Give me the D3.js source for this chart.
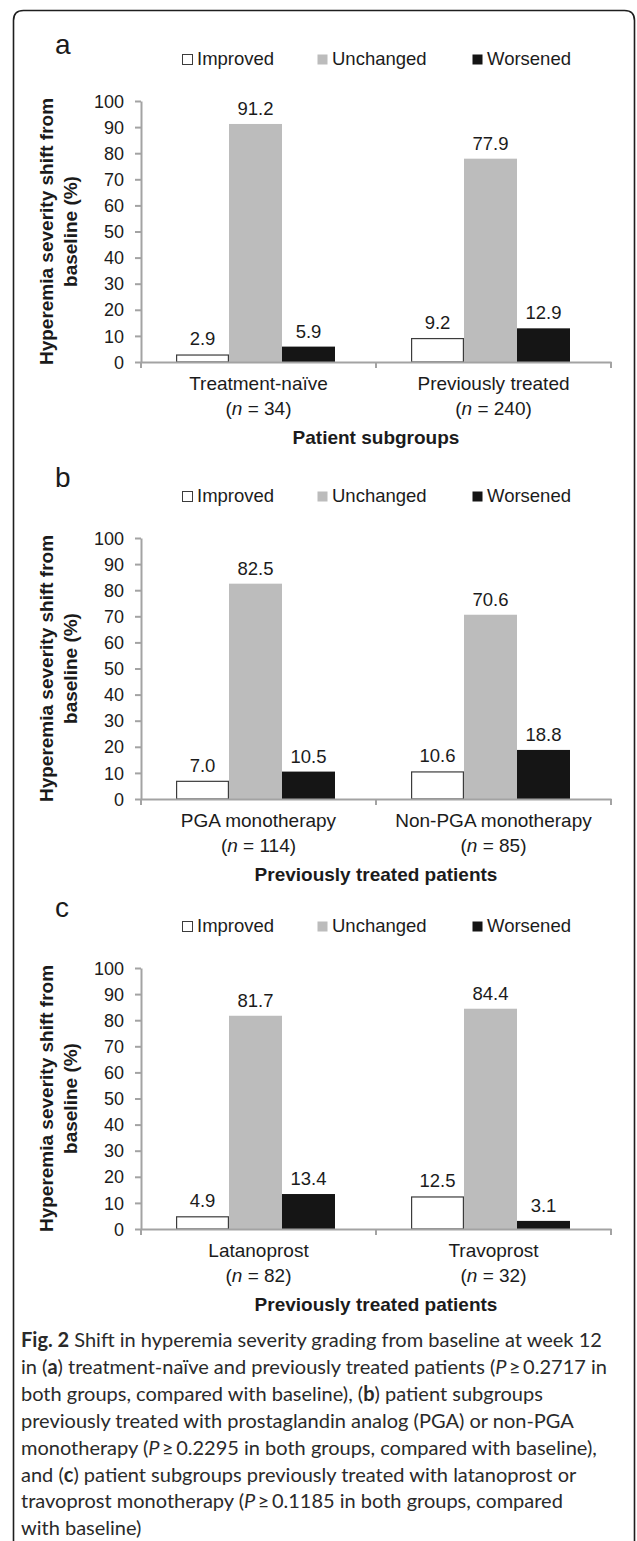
<!DOCTYPE html>
<html>
<head>
<meta charset="utf-8">
<script src="https://cdn.jsdelivr.net/npm/d3@7"></script>
<style>
  html, body { margin: 0; padding: 0; background: #fff; }
  svg { display: block; }
</style>
</head>
<body>
<script>
// ---------- data ----------
const seriesNames = ["Improved", "Unchanged", "Worsened"];
const panelLetters = ["a", "b", "c"];

const groupsA = ["Treatment-naïve", "Previously treated"];
const nA = ["34", "240"];
const improvedA = [2.9, 9.2];
const unchangedA = [91.2, 77.9];
const worsenedA = [5.9, 12.9];

const groupsB = ["PGA monotherapy", "Non-PGA monotherapy"];
const nB = ["114", "85"];
const improvedB = [7.0, 10.6];
const unchangedB = [82.5, 70.6];
const worsenedB = [10.5, 18.8];

const groupsC = ["Latanoprost", "Travoprost"];
const nC = ["82", "32"];
const improvedC = [4.9, 12.5];
const unchangedC = [81.7, 84.4];
const worsenedC = [13.4, 3.1];

const xTitles = ["Patient subgroups", "Previously treated patients", "Previously treated patients"];
const yTicks = [0, 10, 20, 30, 40, 50, 60, 70, 80, 90, 100];
const yTitleLines = ["Hyperemia severity shift from", "baseline (%)"];

const captionLines = [
  [["Fig. 2", "b"], [" Shift in hyperemia severity grading from baseline at week 12", ""]],
  [["in (", ""], ["a", "b"], [") treatment-naïve and previously treated patients (", ""], ["P", "i"], ["\u2009≥\u20090.2717 in", ""]],
  [["both groups, compared with baseline), (", ""], ["b", "b"], [") patient subgroups", ""]],
  [["previously treated with prostaglandin analog (PGA) or non-PGA", ""]],
  [["monotherapy (", ""], ["P", "i"], ["\u2009≥\u20090.2295 in both groups, compared with baseline),", ""]],
  [["and (", ""], ["c", "b"], [") patient subgroups previously treated with latanoprost or", ""]],
  [["travoprost monotherapy (", ""], ["P", "i"], ["\u2009≥\u20090.1185 in both groups, compared", ""]],
  [["with baseline)", ""]]
];

const panels = [
  { letter: panelLetters[0], groups: groupsA, n: nA, vals: [improvedA, unchangedA, worsenedA], xTitle: xTitles[0] },
  { letter: panelLetters[1], groups: groupsB, n: nB, vals: [improvedB, unchangedB, worsenedB], xTitle: xTitles[1] },
  { letter: panelLetters[2], groups: groupsC, n: nC, vals: [improvedC, unchangedC, worsenedC], xTitle: xTitles[2] }
];

// ---------- layout ----------
const W = 637, H = 1541;
const panelTops = [101, 538, 968];
const plotH = 261;
const axisLeft = 141, axisRight = 611;
const letterOffsets = [47, 51, 51];
const fills = { Improved: "#ffffff", Unchanged: "#bcbcbc", Worsened: "#151515" };
const strokes = { Improved: "#3c3c3c", Unchanged: "none", Worsened: "none" };
const chartFont = "'Liberation Sans', Arial, sans-serif";
const textCol = "#1b1b1b";
const axisCol = "#a3a3a3";

const svg = d3.select("body").append("svg").attr("width", W).attr("height", H);
svg.append("rect").attr("width", W).attr("height", H).attr("fill", "#fff");

// frame (rounded top corners, open at bottom)
const fx0 = 13.5, fx1 = 634.5, fy0 = 10.5, r = 10;
svg.append("path")
  .attr("d", `M${fx0},${H + 2} L${fx0},${fy0 + r} Q${fx0},${fy0} ${fx0 + r},${fy0} L${fx1 - r},${fy0} Q${fx1},${fy0} ${fx1},${fy0 + r} L${fx1},${H + 2}`)
  .attr("fill", "none").attr("stroke", "#1e1e1e").attr("stroke-width", 1.6);

const x0 = d3.scaleBand().range([axisLeft, axisRight]).paddingInner(0).paddingOuter(0);
const barShift = -3;

panels.forEach((p, pi) => {
  const top = panelTops[pi];
  const y = d3.scaleLinear().domain([0, 100]).range([top + plotH, top]);
  const g = svg.append("g").attr("font-family", chartFont).attr("fill", textCol);
  x0.domain(p.groups);
  const x1 = d3.scaleBand().domain(seriesNames).range([0, x0.bandwidth()])
    .paddingInner(0).paddingOuter(0.717);

  // panel letter
  g.append("text").attr("x", 55).attr("y", top - letterOffsets[pi])
    .attr("font-size", 28).attr("fill", textCol).text(p.letter);

  // legend
  const legX = [182, 317, 472];
  const legY = top - 36;
  seriesNames.forEach((s, si) => {
    g.append("rect").attr("x", legX[si] + 0.5).attr("y", legY - 10.5).attr("width", 10).attr("height", 10)
      .attr("fill", fills[s]).attr("stroke", s === "Improved" ? strokes[s] : "none").attr("stroke-width", 1);
    g.append("text").attr("x", legX[si] + 15).attr("y", legY)
      .attr("font-size", 18.5).attr("fill", textCol).text(s);
  });

  // bars
  p.groups.forEach((grp, gi) => {
    seriesNames.forEach((s, si) => {
      const v = p.vals[si][gi];
      const bx = x0(grp) + x1(s) + barShift;
      const bw = x1.bandwidth();
      const isImp = s === "Improved";
      g.append("rect")
        .attr("x", isImp ? bx + 0.6 : bx).attr("y", y(v) + (isImp ? 0.6 : 0))
        .attr("width", isImp ? bw - 1.2 : bw).attr("height", y(0) - y(v) - (isImp ? 0.6 : 0))
        .attr("fill", fills[s]).attr("stroke", strokes[s]).attr("stroke-width", isImp ? 1.2 : 0);
      g.append("text").attr("x", bx + bw / 2).attr("y", y(v) - 9)
        .attr("text-anchor", "middle").attr("font-size", 18.5).attr("fill", textCol)
        .text(d3.format(".1f")(v));
    });
  });

  // y axis
  const ya = g.append("g").attr("transform", `translate(${axisLeft},0)`)
    .call(d3.axisLeft(y).tickValues(yTicks).tickSize(6).tickPadding(11).tickSizeOuter(0));
  ya.select(".domain").attr("stroke", axisCol).attr("stroke-width", 2);
  ya.selectAll(".tick line").attr("stroke", axisCol).attr("stroke-width", 2);
  ya.selectAll(".tick text").attr("font-size", 18).attr("fill", textCol)
    .attr("font-family", chartFont).attr("dy", "0.34em");

  // x axis
  const xa = g.append("g").attr("transform", `translate(0,${y(0)})`)
    .call(d3.axisBottom(x0).tickValues([]).tickSizeOuter(0));
  xa.select(".domain").attr("stroke", axisCol).attr("stroke-width", 2);
  const bounds = [axisLeft].concat(p.groups.map(gp => x0(gp) + x0.bandwidth()));
  xa.selectAll("line.sep").data(bounds).enter().append("line").attr("class", "sep")
    .attr("x1", d => d).attr("x2", d => d).attr("y1", 0).attr("y2", 6)
    .attr("stroke", axisCol).attr("stroke-width", 2);

  // category labels
  p.groups.forEach((grp, gi) => {
    const cx = x0(grp) + x0.bandwidth() / 2;
    g.append("text").attr("x", cx).attr("y", y(0) + 28).attr("text-anchor", "middle")
      .attr("font-size", 19).attr("fill", textCol).text(grp);
    const t2 = g.append("text").attr("x", cx).attr("y", y(0) + 53).attr("text-anchor", "middle")
      .attr("font-size", 19).attr("fill", textCol);
    t2.append("tspan").text("(");
    t2.append("tspan").attr("font-style", "italic").text("n");
    t2.append("tspan").text(" = " + p.n[gi] + ")");
  });

  // x title
  g.append("text").attr("x", (axisLeft + axisRight) / 2).attr("y", y(0) + 82)
    .attr("text-anchor", "middle").attr("font-size", 19).attr("font-weight", "bold")
    .attr("fill", textCol).text(p.xTitle);

  // y title
  const yc = (y(0) + y(100)) / 2;
  yTitleLines.forEach((ln, li) => {
    g.append("text").attr("transform", `translate(${53 + li * 24},${yc}) rotate(-90)`)
      .attr("text-anchor", "middle").attr("font-size", 19).attr("font-weight", "bold")
      .attr("fill", textCol).text(ln);
  });
});

// ---------- caption ----------
const cap = svg.append("g").attr("font-family", "Lato, 'Open Sans', sans-serif").attr("fill", "#2a2a2a");
const capX = 21, capY0 = 1347, capDy = 26.9;
captionLines.forEach((segs, li) => {
  const t = cap.append("text").attr("x", capX).attr("y", capY0 + li * capDy)
    .attr("font-size", 20).attr("xml:space", "preserve").style("white-space", "pre");
  segs.forEach(([txt, st]) => {
    const ts = t.append("tspan").text(txt);
    if (st === "b") ts.attr("font-weight", "bold");
    if (st === "i") ts.attr("font-style", "italic");
  });
});
</script>
</body>
</html>
